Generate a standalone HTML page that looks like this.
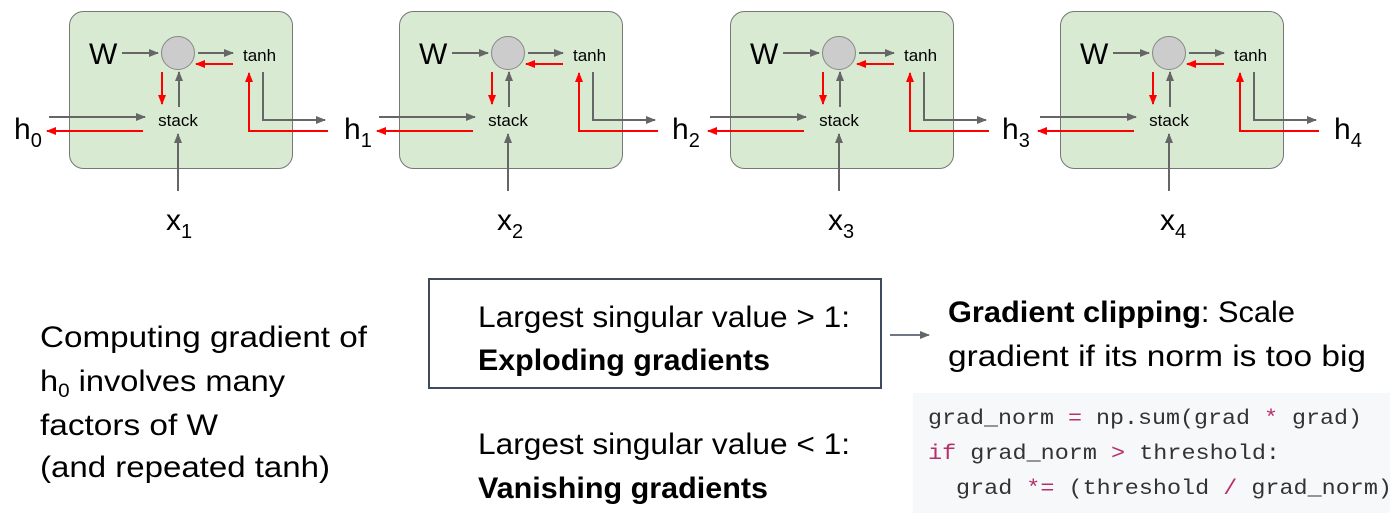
<!DOCTYPE html>
<html><head><meta charset="utf-8"><style>
html,body{margin:0;padding:0;background:#fff;width:1390px;height:523px;overflow:hidden}
svg text{font-family:"Liberation Sans",sans-serif}
</style></head><body>
<svg width="1390" height="523" viewBox="0 0 1390 523" xmlns="http://www.w3.org/2000/svg">
<defs>
<marker id="g" markerWidth="10" markerHeight="8" refX="9" refY="4" orient="auto" markerUnits="userSpaceOnUse"><path d="M0,0 L10,4 L0,8 z" fill="#666"/></marker>
<marker id="r" markerWidth="10" markerHeight="8" refX="9" refY="4" orient="auto" markerUnits="userSpaceOnUse"><path d="M0,0 L10,4 L0,8 z" fill="#f00"/></marker>
<g id="cell">
<rect x="69.5" y="11.5" width="223" height="157" rx="14" fill="#d9ead3" stroke="#777" stroke-width="1"/>
<text x="89" y="64" font-size="30">W</text>
<line x1="122" y1="53" x2="158" y2="53" stroke="#666" stroke-width="2" marker-end="url(#g)"/>
<circle cx="178" cy="53" r="16.5" fill="#ccc" stroke="#888" stroke-width="1"/>
<line x1="198" y1="53" x2="233" y2="53" stroke="#666" stroke-width="2" marker-end="url(#g)"/>
<text x="243" y="61" font-size="17">tanh</text>
<line x1="233" y1="64" x2="196" y2="64" stroke="#f00" stroke-width="2" marker-end="url(#r)"/>
<line x1="162" y1="72" x2="162" y2="104" stroke="#f00" stroke-width="2" marker-end="url(#r)"/>
<line x1="179" y1="107" x2="179" y2="72" stroke="#666" stroke-width="2" marker-end="url(#g)"/>
<text x="178" y="126" font-size="17" text-anchor="middle">stack</text>
<line x1="49" y1="117" x2="145" y2="117" stroke="#666" stroke-width="2" marker-end="url(#g)"/>
<line x1="143" y1="131" x2="47" y2="131" stroke="#f00" stroke-width="2" marker-end="url(#r)"/>
<line x1="178" y1="191" x2="178" y2="134" stroke="#666" stroke-width="2" marker-end="url(#g)"/>
<polyline points="263,72 263,120 325,120" fill="none" stroke="#666" stroke-width="2" marker-end="url(#g)"/>
<polyline points="328,131 249,131 249,73" fill="none" stroke="#f00" stroke-width="2" marker-end="url(#r)"/>
</g>
</defs>
<use href="#cell"/>
<use href="#cell" transform="translate(330,0)"/>
<use href="#cell" transform="translate(661,0)"/>
<use href="#cell" transform="translate(991,0)"/>
<g font-size="30">
<text x="14" y="139">h<tspan font-size="20" dy="8">0</tspan></text>
<text x="344" y="139">h<tspan font-size="20" dy="8">1</tspan></text>
<text x="672" y="139">h<tspan font-size="20" dy="8">2</tspan></text>
<text x="1002" y="139">h<tspan font-size="20" dy="8">3</tspan></text>
<text x="1334" y="139">h<tspan font-size="20" dy="8">4</tspan></text>
<text x="166" y="230">x<tspan font-size="20" dy="8">1</tspan></text>
<text x="497" y="230">x<tspan font-size="20" dy="8">2</tspan></text>
<text x="828" y="230">x<tspan font-size="20" dy="8">3</tspan></text>
<text x="1160" y="230">x<tspan font-size="20" dy="8">4</tspan></text>
</g>
<g font-size="30" fill="#000">
<text x="40" y="347" textLength="327" lengthAdjust="spacingAndGlyphs">Computing gradient of</text>
<text x="40" y="391" textLength="245" lengthAdjust="spacingAndGlyphs">h<tspan font-size="19" dy="6">0</tspan><tspan dy="-6"> involves many</tspan></text>
<text x="40" y="435" textLength="178" lengthAdjust="spacingAndGlyphs">factors of W</text>
<text x="40" y="477" textLength="290" lengthAdjust="spacingAndGlyphs">(and repeated tanh)</text>
<rect x="429" y="279" width="452" height="109" fill="none" stroke="#3d4b5c" stroke-width="2"/>
<text x="478" y="327" textLength="372" lengthAdjust="spacingAndGlyphs">Largest singular value &gt; 1:</text>
<text x="478" y="370" font-weight="bold" textLength="292" lengthAdjust="spacingAndGlyphs">Exploding gradients</text>
<text x="478" y="454" textLength="372" lengthAdjust="spacingAndGlyphs">Largest singular value &lt; 1:</text>
<text x="478" y="498" font-weight="bold" textLength="290" lengthAdjust="spacingAndGlyphs">Vanishing gradients</text>
<text x="948" y="322" textLength="347" lengthAdjust="spacingAndGlyphs"><tspan font-weight="bold">Gradient clipping</tspan>: Scale</text>
<text x="948" y="366" textLength="418" lengthAdjust="spacingAndGlyphs">gradient if its norm is too big</text>
</g>
<line x1="890" y1="335" x2="929" y2="335" stroke="#3d4b5c" stroke-width="1.5" marker-end="url(#g)"/>
<rect x="913" y="393" width="477" height="120" fill="#f6f8fa"/>
<g font-size="21" fill="#333">
<text x="928" y="424" textLength="434" lengthAdjust="spacingAndGlyphs" style="font-family:'Liberation Mono',monospace">grad_norm <tspan fill="#b5306b">=</tspan> np.sum(grad <tspan fill="#b5306b">*</tspan> grad)</text>
<text x="928" y="459" textLength="352" lengthAdjust="spacingAndGlyphs" style="font-family:'Liberation Mono',monospace"><tspan fill="#b5306b">if</tspan> grad_norm <tspan fill="#b5306b">&gt;</tspan> threshold:</text>
<text x="956" y="494" textLength="436" lengthAdjust="spacingAndGlyphs" style="font-family:'Liberation Mono',monospace">grad <tspan fill="#b5306b">*=</tspan> (threshold <tspan fill="#b5306b">/</tspan> grad_norm)</text>
</g>
</svg>
</body></html>
